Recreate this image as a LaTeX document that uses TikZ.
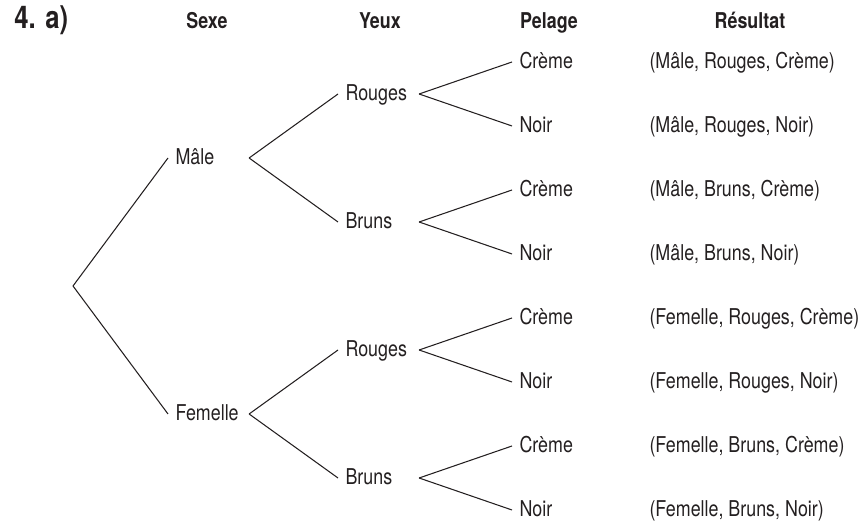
\documentclass[tikz,border=0pt]{standalone}
\usepackage{fontspec}
\setmainfont{TeX Gyre Heros}[FakeStretch=0.82]
\definecolor{encre}{HTML}{231F20}
\begin{document}
\begin{tikzpicture}[color=encre,line width=0.6pt,
  every node/.style={font=\fontsize{12.4}{14}\selectfont,text height=0.72em,text depth=0pt},
  titre/.style={font=\fontsize{12.4}{14}\selectfont\bfseries},
  lbl/.style={anchor=west,inner xsep=4pt,inner ysep=0pt,text width=1.32cm},
  leaf/.style={anchor=west,inner xsep=4pt,inner ysep=0pt},
  res/.style={anchor=west,inner sep=0pt}]
\useasboundingbox (0,0) rectangle (17.24,10.46);

% en-tetes
\node[anchor=west,font=\fontsize{17.8}{20}\selectfont\bfseries] (num) at (0.16,10.02) {4. a)};
\node[titre] (sexe) at (4.14,10.02) {Sexe};
\node[titre] (yeux) at (7.6,10.02) {Yeux};
\node[titre] (pelage) at (10.98,10.02) {Pelage};
\node[titre] (resultat) at (15.0,10.02) {Résultat};

% arbre
\coordinate (racine) at (1.46,4.74);
\node[lbl] (m) at (3.36,7.30) {Mâle};
\node[lbl] (f) at (3.36,2.18) {Femelle};
\node[lbl] (mr) at (6.76,8.58) {Rouges};
\node[lbl] (mb) at (6.76,6.02) {Bruns};
\node[lbl] (fr) at (6.76,3.46) {Rouges};
\node[lbl] (fb) at (6.76,0.90) {Bruns};

\node[leaf] (mrc) at (10.24,9.22) {Crème};
\node[leaf] (mrn) at (10.24,7.94) {Noir};
\node[leaf] (mbc) at (10.24,6.66) {Crème};
\node[leaf] (mbn) at (10.24,5.38) {Noir};
\node[leaf] (frc) at (10.24,4.10) {Crème};
\node[leaf] (frn) at (10.24,2.82) {Noir};
\node[leaf] (fbc) at (10.24,1.54) {Crème};
\node[leaf] (fbn) at (10.24,0.26) {Noir};

\draw (racine)--(m.west);
\draw (racine)--(f.west);
\draw (m.east)--(mr.west);
\draw (m.east)--(mb.west);
\draw (f.east)--(fr.west);
\draw (f.east)--(fb.west);
\draw (mr.east)--(mrc.west);
\draw (mr.east)--(mrn.west);
\draw (mb.east)--(mbc.west);
\draw (mb.east)--(mbn.west);
\draw (fr.east)--(frc.west);
\draw (fr.east)--(frn.west);
\draw (fb.east)--(fbc.west);
\draw (fb.east)--(fbn.west);

% resultats
\node[res] (r1) at (12.98,9.22) {(Mâle, Rouges, Crème)};
\node[res] (r2) at (12.98,7.94) {(Mâle, Rouges, Noir)};
\node[res] (r3) at (12.98,6.66) {(Mâle, Bruns, Crème)};
\node[res] (r4) at (12.98,5.38) {(Mâle, Bruns, Noir)};
\node[res] (r5) at (12.98,4.10) {(Femelle, Rouges, Crème)};
\node[res] (r6) at (12.98,2.82) {(Femelle, Rouges, Noir)};
\node[res] (r7) at (12.98,1.54) {(Femelle, Bruns, Crème)};
\node[res] (r8) at (12.98,0.26) {(Femelle, Bruns, Noir)};

\end{tikzpicture}
\end{document}
